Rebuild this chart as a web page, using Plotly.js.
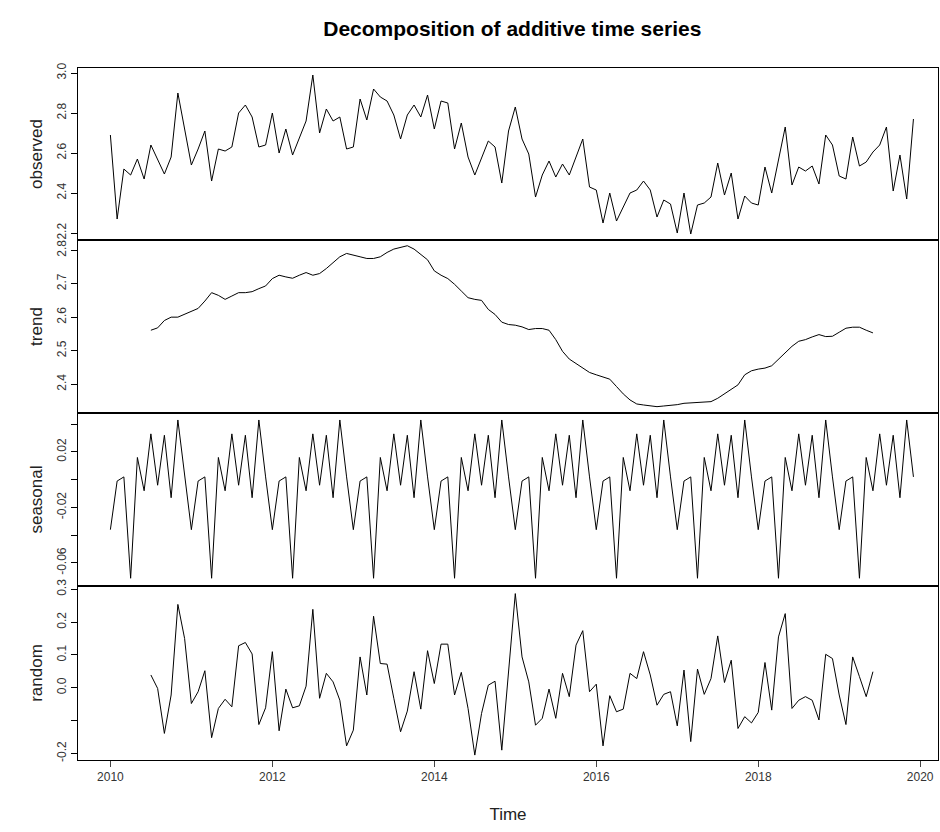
<!DOCTYPE html>
<html>
<head>
<meta charset="utf-8">
<script src="https://cdn.plot.ly/plotly-3.0.1.min.js"></script>
<style>body{margin:0;background:#fff}</style>
</head>
<body>
<div id="plot" style="width:940px;height:832px"></div>
<script>
// Monthly series, Jan 2010 - Dec 2019
let startYear = 2010

let observed = [
  2.69, 2.27, 2.52, 2.49, 2.57, 2.47, 2.64, 2.565, 2.495, 2.58,
  2.90, 2.72, 2.54, 2.62, 2.71, 2.46, 2.62, 2.61, 2.63, 2.80,
  2.84, 2.78, 2.63, 2.64, 2.80, 2.60, 2.72, 2.59, 2.68, 2.76,
  2.99, 2.70, 2.82, 2.76, 2.78, 2.62, 2.63, 2.87, 2.765, 2.92,
  2.88, 2.86, 2.79, 2.67, 2.79, 2.84, 2.78, 2.89, 2.72, 2.86,
  2.85, 2.62, 2.75, 2.58, 2.49, 2.58, 2.66, 2.63, 2.45, 2.71,
  2.83, 2.67, 2.595, 2.38, 2.49, 2.56, 2.48, 2.545, 2.49, 2.58,
  2.67, 2.43, 2.415, 2.25, 2.40, 2.26, 2.33, 2.40, 2.415, 2.46,
  2.415, 2.28, 2.365, 2.345, 2.20, 2.40, 2.195, 2.34, 2.35, 2.38,
  2.55, 2.39, 2.50, 2.27, 2.385, 2.35, 2.34, 2.53, 2.40, 2.565,
  2.73, 2.44, 2.53, 2.51, 2.535, 2.445, 2.69, 2.64, 2.485, 2.47,
  2.68, 2.535, 2.555, 2.605, 2.64, 2.73, 2.41, 2.59, 2.37, 2.77
]

let trend = [
  null, null, null, null, null, null,
  2.561, 2.568, 2.59, 2.60, 2.60, 2.608, 2.618, 2.626, 2.648, 2.673,
  2.665, 2.653, 2.663, 2.673, 2.673, 2.676, 2.685, 2.693, 2.715, 2.725,
  2.72, 2.716, 2.725, 2.733, 2.725, 2.73, 2.745, 2.763, 2.78, 2.79,
  2.786, 2.78, 2.775, 2.775, 2.78, 2.793, 2.803, 2.808, 2.813, 2.803,
  2.788, 2.771, 2.738, 2.725, 2.715, 2.698, 2.678, 2.658, 2.653, 2.65,
  2.623,
  2.608, 2.585, 2.578, 2.576, 2.571, 2.563, 2.566, 2.566, 2.561, 2.533,
  2.498, 2.475, 2.461, 2.448, 2.435, 2.428, 2.421, 2.415, 2.393, 2.371,
  2.353, 2.341, 2.338, 2.335, 2.333, 2.335, 2.336, 2.339, 2.343, 2.344,
  2.346, 2.347, 2.348, 2.358, 2.371, 2.383, 2.398, 2.428, 2.44, 2.445,
  2.448, 2.455, 2.475, 2.493, 2.513, 2.528, 2.533, 2.541, 2.548, 2.542,
  2.543, 2.555, 2.567, 2.57, 2.57, 2.561, 2.553,
  null, null, null, null, null, null
]

// seasonal figure, Jan..Dec (repeats every year)
let seasonalFigure = [-0.036, -0.001, 0.002, -0.071, 0.016, -0.008,
                      0.033, -0.004, 0.032, -0.013, 0.043, 0.002]

let random = [
  null, null, null, null, null, null,
  0.039, -0.002, -0.139, -0.022, 0.254, 0.15, -0.048, -0.012, 0.052, -0.152,
  -0.063, -0.035, -0.058, 0.128, 0.138, 0.103, -0.112, -0.061, 0.11, -0.131,
  -0.004, -0.061, -0.055, 0.005, 0.239, -0.032, 0.044, 0.018, -0.038, -0.177,
  -0.129, 0.094, -0.022, 0.218, 0.074, 0.072, -0.032, -0.134, -0.071, 0.049,
  -0.065, 0.113, 0.013, 0.133, 0.133, -0.022, 0.047, -0.063, -0.205, -0.078,
  0.008,
  0.02, -0.19, 0.06, 0.287, 0.094, 0.018, -0.114, -0.093, -0.004, -0.093,
  0.044, -0.027, 0.13, 0.174, -0.012, 0.011, -0.177, -0.024, -0.073, -0.065,
  0.044, 0.028, 0.11, 0.039, -0.053, -0.02, -0.012, -0.116, 0.054, -0.164,
  0.057, -0.02, 0.028, 0.158, 0.016, 0.084, -0.124, -0.088, -0.107, -0.075,
  0.077, -0.068, 0.155, 0.226, -0.063, -0.038, -0.027, -0.038, -0.098, 0.102,
  0.089, -0.022, -0.112, 0.094, 0.034, -0.027, 0.049,
  null, null, null, null, null, null
]

// time axis and full seasonal series
let time = []
let seasonal = []
for (let i = 0; i < observed.length; i++) {
  time.push(startYear + i / 12)
  seasonal.push(seasonalFigure[i % 12])
}

let lineStyle = {color: "black", width: 1}
let fontFam = "Liberation Sans, Arial, sans-serif"

let data = [
  {x: time, y: observed, xaxis: "x", yaxis: "y", type: "scatter", mode: "lines", line: lineStyle},
  {x: time, y: trend, xaxis: "x2", yaxis: "y2", type: "scatter", mode: "lines", line: lineStyle},
  {x: time, y: seasonal, xaxis: "x3", yaxis: "y3", type: "scatter", mode: "lines", line: lineStyle},
  {x: time, y: random, xaxis: "x4", yaxis: "y4", type: "scatter", mode: "lines", line: lineStyle}
]

let xRange = [2009.6, 2020.22]
function hiddenX(anchor) {
  return {range: xRange, anchor: anchor, matches: "x4", showline: true, mirror: true,
          linecolor: "black", linewidth: 1, showgrid: false, zeroline: false,
          showticklabels: false, ticks: ""}
}
function yAx(domain, range, vals, text, title, anchor) {
  return {domain: domain, range: range, anchor: anchor, tickvals: vals, ticktext: text,
          tickangle: -90, ticks: "outside", ticklen: 6, tickcolor: "black",
          showline: true, mirror: true, linecolor: "black", linewidth: 1,
          showgrid: false, zeroline: false, tickfont: {size: 12, color: "#333"},
          title: {text: title, font: {size: 17, color: "#222"}, standoff: 8}}
}

let layout = {
  width: 940, height: 832,
  margin: {l: 78, r: 2, t: 68, b: 72},
  showlegend: false,
  paper_bgcolor: "white", plot_bgcolor: "white",
  font: {family: fontFam, color: "black"},
  title: {text: "<b>Decomposition of additive time series</b>", font: {size: 21}, x: 0.545, y: 0.975},
  xaxis: hiddenX("y"),
  xaxis2: hiddenX("y2"),
  xaxis3: hiddenX("y3"),
  xaxis4: {range: xRange, anchor: "y4", showline: true, mirror: true, linecolor: "black",
           linewidth: 1, showgrid: false, zeroline: false, tickvals: [2010, 2012, 2014, 2016, 2018, 2020],
           ticks: "outside", ticklen: 6, tickfont: {size: 12, color: "#333"},
           title: {text: "Time", font: {size: 17, color: "#222"}, standoff: 24}},
  yaxis: yAx([0.7514, 1], [2.165, 3.025], [2.2, 2.4, 2.6, 2.8, 3.0], ["2.2", "2.4", "2.6", "2.8", "3.0"], "observed", "x"),
  yaxis2: yAx([0.5014, 0.7514], [2.314, 2.83], [2.4, 2.5, 2.6, 2.7, 2.8], ["2.4", "2.5", "2.6", "2.7", "2.8"], "trend", "x2"),
  yaxis3: yAx([0.2514, 0.5014], [-0.0766, 0.048], [-0.06, -0.04, -0.02, 0, 0.02, 0.04], ["-0.06", "", "-0.02", "", "0.02", ""], "seasonal", "x3"),
  yaxis4: yAx([0, 0.2514], [-0.22, 0.31], [-0.2, -0.1, 0, 0.1, 0.2, 0.3], ["-0.2", "", "0.0", "0.1", "0.2", "0.3"], "random", "x4")
}

Plotly.newPlot("plot", data, layout, {displayModeBar: false})
</script>
</body>
</html>
